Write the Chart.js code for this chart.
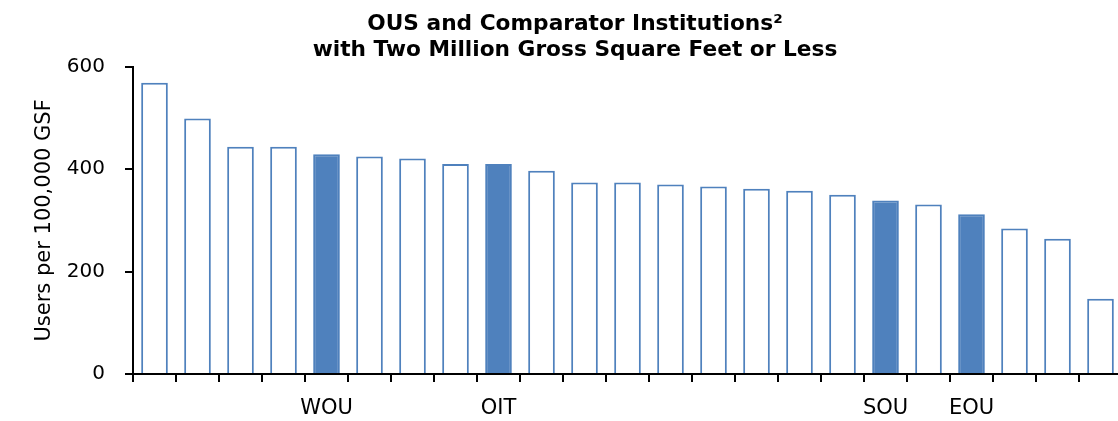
<!DOCTYPE html>
<html>
<head>
<meta charset="utf-8">
<script src="https://cdn.jsdelivr.net/npm/chart.js@4.4.1/dist/chart.umd.min.js"></script>
<style>
  html, body { margin: 0; padding: 0; background: #ffffff; overflow: hidden; }
  #wrap { width: 1124px; height: 421px; position: relative; }
</style>
</head>
<body>
<div id="wrap"><canvas id="c"></canvas></div>
<script>
// Categories: only the OUS institutions are labelled on the axis
const categories = ['', '', '', '', 'WOU', '', '', '', 'OIT', '', '', '', '', '', '', '', '', 'SOU', '', 'EOU', '', '', ''];
// Users per 100,000 GSF
const usersPer100k = [569, 499, 444, 444, 429, 425, 421, 410, 410, 397, 374, 374, 370, 366, 362, 358, 350, 339, 331, 312, 284, 264, 147];
const titleLines = ['OUS and Comparator Institutions\u00B2', 'with Two Million Gross Square Feet or Less'];
const yTitle = 'Users per 100,000 GSF';
const yTicks = [0, 200, 400, 600];

const BLUE = '#4F81BD';
const fills = categories.map(c => c !== '' ? BLUE : '#FFFFFF');

new Chart(document.getElementById('c'), {
  type: 'bar',
  data: {
    labels: categories,
    datasets: [{
      data: usersPer100k,
      backgroundColor: fills,
      borderColor: BLUE,
      borderWidth: 2,
      borderSkipped: 'start',
      barPercentage: 0.62,
      categoryPercentage: 1.0
    }]
  },
  options: {
    responsive: true,
    maintainAspectRatio: false,
    animation: false,
    events: [],
    layout: { padding: { left: 28, right: 2, top: 0, bottom: 0 } },
    plugins: {
      legend: { display: false },
      tooltip: { enabled: false },
      title: {
        display: true,
        text: titleLines,
        color: '#000000',
        font: { family: 'DejaVu Sans', weight: 'bold', size: 21.7, lineHeight: 1.17 },
        padding: { top: 12, bottom: 4 }
      }
    },
    scales: {
      x: {
        afterFit: (s) => { s.height = 47; },
        grid: { display: true, drawOnChartArea: false, offset: true, color: '#000000', lineWidth: 2, tickLength: 8 },
        border: { display: true, color: '#000000', width: 2 },
        ticks: { autoSkip: false, maxRotation: 0, minRotation: 0, color: '#000000', padding: 14,
                 font: { family: 'DejaVu Sans', size: 21 } }
      },
      y: {
        min: 0,
        max: 600,
        afterFit: (s) => { s.width = 105; },
        afterBuildTicks: (scale) => { scale.ticks = yTicks.map(v => ({ value: v })); },
        grid: { display: true, drawOnChartArea: false, color: '#000000', lineWidth: 2, tickLength: 8 },
        border: { display: true, color: '#000000', width: 2 },
        ticks: { color: '#000000', padding: 20, font: { family: 'DejaVu Sans', size: 20 } },
        title: {
          display: true,
          text: yTitle,
          color: '#000000',
          font: { family: 'DejaVu Sans', size: 21, lineHeight: 1.2 },
          padding: { top: 4, bottom: 0 }
        }
      }
    }
  }
});
</script>
</body>
</html>
